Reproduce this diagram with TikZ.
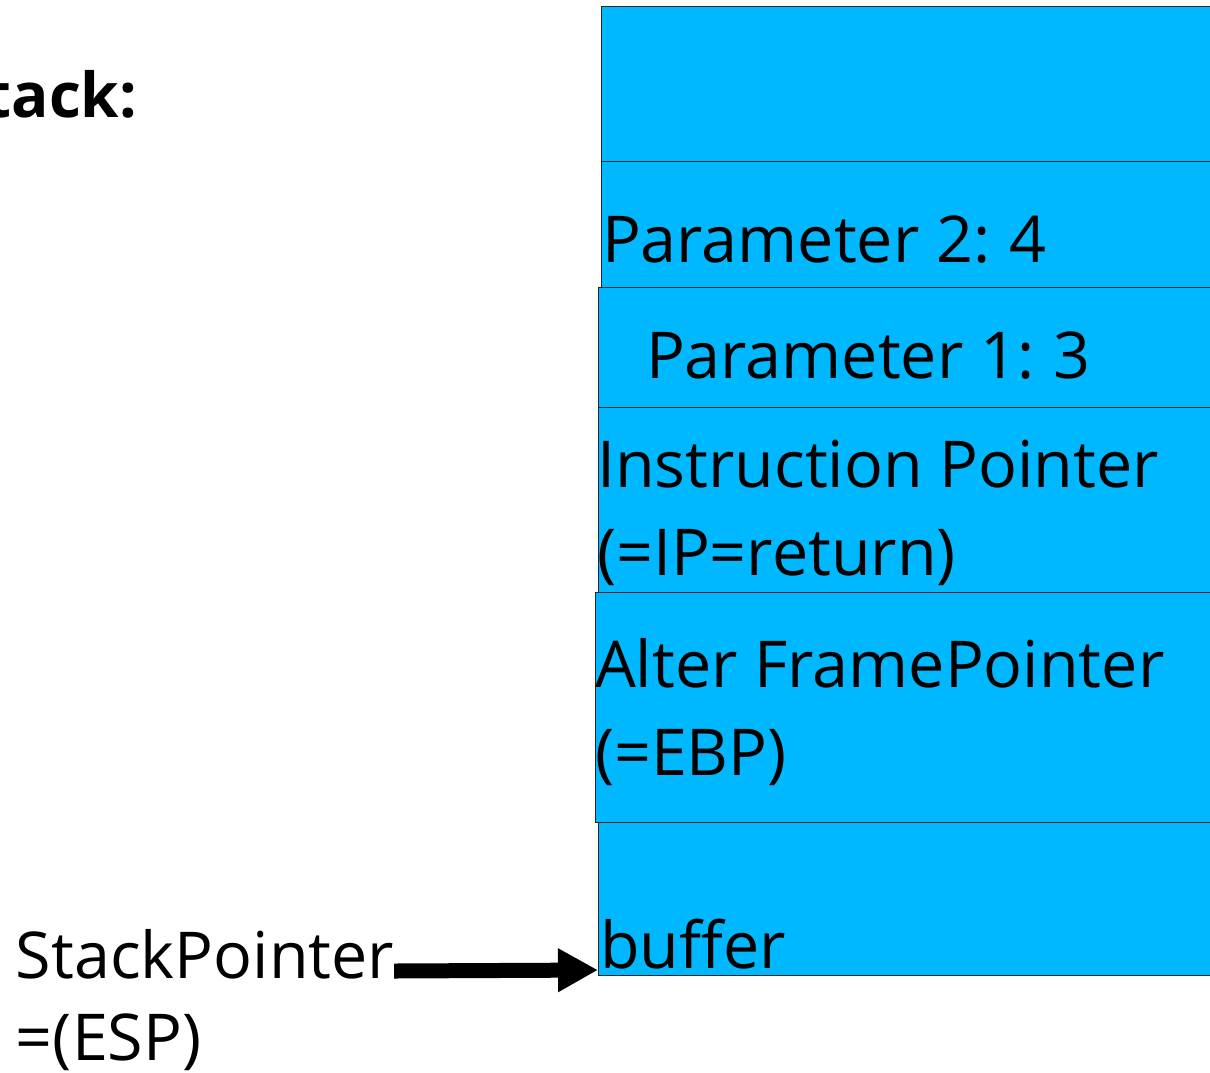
\documentclass[tikz,border=0pt]{standalone}
\usepackage{fontspec}
\setmainfont{Open Sans}
\usetikzlibrary{arrows.meta}
\definecolor{stackblue}{RGB}{0,184,255}
\begin{document}
\begin{tikzpicture}[x=1pt,y=-1pt,
  cell/.style={draw=black!85, line width=1pt, fill=stackblue, anchor=north west, inner sep=0pt, outer sep=0pt, minimum width=640pt},
  lbl/.style={anchor=base west, inner sep=0pt, outer sep=0pt, font=\fontsize{64.6}{88}\selectfont},
  bigarrow/.style={line width=15pt, -{Triangle[length=40pt,width=41pt]}}
]
\useasboundingbox (0,0) rectangle (1210,1072);
\clip (0,0) rectangle (1210,1072);
\node[cell, minimum height=155pt] (c1) at (601,6) {};
\node[cell, minimum height=126pt] (c2) at (601,161) {};
\node[cell, minimum height=120pt] (c3) at (598,287) {};
\node[cell, minimum height=185pt] (c4) at (598,407) {};
\node[cell, minimum height=230pt] (c5) at (595,592) {};
\node[cell, minimum height=153pt] (buf) at (598,822) {};

\node[lbl] (t2) at (602,262) {Parameter 2:\kern-3pt{} 4};
\node[lbl] (t3) at (646,378) {Parameter 1:\kern-3pt{} 3};
\node[lbl] (t4a) at (597,487) {Instruction Pointer};
\node[lbl] (t4b) at (597,575) {(=IP=return)};
\node[lbl] (t5a) at (595,687) {Alter FramePointer};
\node[lbl] (t5b) at (595,775) {(=EBP)};
\node[lbl] (t6) at (600,968) {buffer};

\node[lbl, anchor=base east, font=\bfseries\fontsize{62}{80}\selectfont] (title) at (137,117) {Stack:};
\node[lbl] (sp1) at (16,978) {StackPointer};
\node[lbl] (sp2) at (16,1060) {=(ESP)};

\draw[bigarrow] ([shift={(0pt,7pt)}]sp1.base east) -- ([yshift=5pt]buf.south west);
\end{tikzpicture}
\end{document}
